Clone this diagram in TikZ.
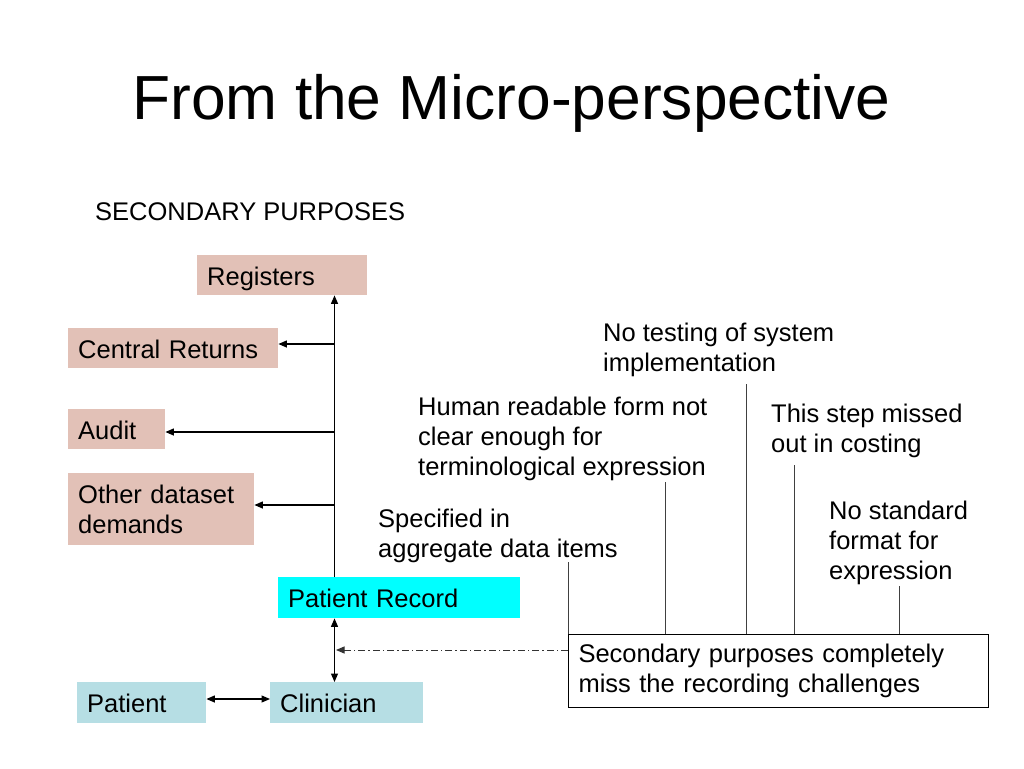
\documentclass[tikz,border=0pt]{standalone}
\usepackage{fontspec}
\setmainfont{Liberation Sans}
\usetikzlibrary{arrows.meta}
\definecolor{pinkbox}{RGB}{226,193,183}
\definecolor{bluebox}{RGB}{182,222,228}
\definecolor{cyanbox}{RGB}{0,255,255}
\tikzset{
  body/.style={font=\fontsize{25.5}{30}\selectfont, text=black},
  txt/.style={body, align=left, inner sep=0pt, anchor=north west},
  boxbase/.style={body, draw=none, anchor=north west, inner xsep=10pt, inner ysep=0pt, align=left},
  onel/.style={text height=22pt, text depth=2pt},
  pbox/.style={boxbase, fill=pinkbox},
  bbox/.style={boxbase, fill=bluebox},
  cbox/.style={boxbase, fill=cyanbox},
  tip/.style={-{Triangle[length=8.5pt,width=7pt]}},
  arr/.style={tip, line width=1.2pt, draw=black},
  dbl/.style={{Triangle[length=8.5pt,width=7pt]}-{Triangle[length=8.5pt,width=7pt]}, line width=1.2pt, draw=black},
  ddash/.style={tip, line width=1pt, draw=black!80, dash pattern=on 7pt off 3pt on 1.5pt off 3pt},
  callout/.style={line width=1pt, draw=black!75},
}
\begin{document}
\begin{tikzpicture}[x=1pt,y=-1pt]
\useasboundingbox (0,0) rectangle (1024,768);
% title
\node[font=\fontsize{62.3}{70}\selectfont, anchor=base, inner sep=0pt] (title) at (511.5,119) {From the Micro-perspective};
\node[txt] (sec2) at (95,202.5) {SECONDARY PURPOSES};
% boxes
\node[pbox, onel, minimum height=40pt, text width=150pt] (reg) at (197,255) {Registers};
\node[pbox, onel, minimum height=40pt, text width=190pt] (cr) at (68,328) {Central Returns};
\node[pbox, onel, minimum height=40pt, text width=77pt] (au) at (68,409) {Audit};
\node[pbox, minimum height=72pt, text width=166pt] (od) at (68,473) {Other dataset\\demands};
\node[cbox, onel, minimum height=41pt, text width=222pt] (pr) at (278,577) {Patient Record};
\node[bbox, onel, minimum height=41pt, text width=109pt] (pa) at (77,682) {Patient};
\node[bbox, onel, minimum height=41pt, text width=133pt] (cl) at (270,682) {Clinician};
\node[boxbase, draw=black, line width=1pt, fill=white, minimum height=73pt, text width=400pt] (sec) at (568,634) {Secondary purposes completely\\miss the recording challenges};
% free texts
\node[txt] (nt) at (603,322.5) {No testing of system\\implementation};
\node[txt] (hr) at (418,396.5) {Human readable form not\\clear enough for\\terminological expression};
\node[txt] (ts) at (771,403.5) {This step missed\\out in costing};
\node[txt] (ns) at (829,500.5) {No standard\\format for\\expression};
\node[txt] (sp) at (378,508.5) {Specified in\\aggregate data items};
% spine
\coordinate (s) at (334.5,0);
\draw[arr] (s |- pr.north) -- (s |- reg.south);
\draw[arr] (s |- 0,344) coordinate (b1) -- (cr.east |- b1);
\draw[arr] (s |- 0,432) coordinate (b2) -- (au.east |- b2);
\draw[arr] (s |- 0,505) coordinate (b3) -- (od.east |- b3);
\draw[dbl] (s |- pr.south) -- (s |- cl.north);
\draw[dbl] (pa.east |- 0,699) coordinate (pc) -- (cl.west |- pc);
% dash-dot
\coordinate (dd) at ([yshift=-16pt]sec.north west);
\draw[ddash] (dd) -- ([xshift=1.5pt]s |- dd);
% callouts
\coordinate (c1) at (568.5,562);
\coordinate (c2) at (665,482);
\coordinate (c3) at (746,384);
\coordinate (c4) at (794.5,465);
\coordinate (c5) at (899,586);
\foreach \c in {c1,c2,c3,c4,c5} \draw[callout] (sec.north -| \c) -- (\c);
\end{tikzpicture}
\end{document}
